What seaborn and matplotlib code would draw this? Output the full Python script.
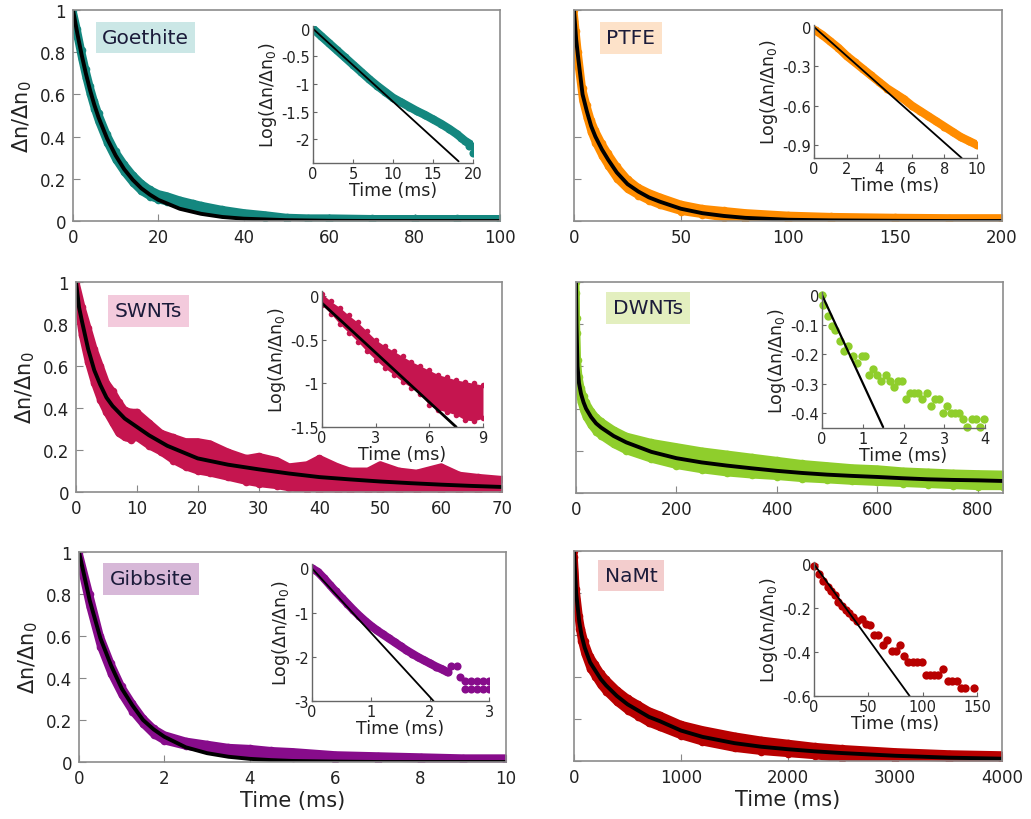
import matplotlib
matplotlib.use("Agg")
import matplotlib.pyplot as plt
import seaborn as sns

goe_t = [0, 1, 2, 3, 4, 5, 6, 8, 10, 12, 14, 16, 18, 20, 22, 25, 28, 30, 35, 40, 45, 50, 55, 60, 70, 80, 90, 100]
goe_hi = [1.0, 0.91, 0.81, 0.72, 0.64, 0.57, 0.51, 0.41, 0.33, 0.27, 0.22, 0.18, 0.15, 0.13, 0.12, 0.10, 0.085, 0.075, 0.055, 0.04, 0.03, 0.018, 0.015, 0.015, 0.012, 0.012, 0.012, 0.012]
goe_lo = [0.97, 0.87, 0.77, 0.68, 0.60, 0.53, 0.47, 0.37, 0.29, 0.23, 0.18, 0.14, 0.115, 0.10, 0.09, 0.075, 0.06, 0.05, 0.035, 0.022, 0.012, 0.003, 0.0, 0.0, 0.0, 0.0, 0.0, 0.0]
goe_fit_t = [0, 1, 2, 3, 4, 5, 6, 8, 10, 12, 14, 16, 18, 20, 25, 30, 35, 40, 50, 60, 70, 100]
goe_fit = [1.0, 0.89, 0.79, 0.70, 0.62, 0.55, 0.49, 0.39, 0.31, 0.245, 0.195, 0.155, 0.125, 0.1, 0.058, 0.034, 0.019, 0.011, 0.004, 0.001, 0.0, 0.0]

ptfe_t = [0, 1, 2, 4, 6, 8, 10, 13, 16, 20, 25, 30, 35, 40, 50, 60, 70, 80, 100, 120, 150, 175, 200]
ptfe_hi = [1.0, 0.9, 0.8, 0.63, 0.55, 0.48, 0.43, 0.37, 0.32, 0.26, 0.2, 0.16, 0.135, 0.115, 0.08, 0.06, 0.05, 0.04, 0.028, 0.022, 0.018, 0.016, 0.016]
ptfe_lo = [0.95, 0.82, 0.73, 0.57, 0.49, 0.42, 0.37, 0.31, 0.26, 0.2, 0.15, 0.12, 0.095, 0.075, 0.045, 0.03, 0.015, 0.005, 0.0, 0.0, 0.0, 0.0, 0.0]
ptfe_fit = [1.0, 0.86, 0.77, 0.6, 0.52, 0.45, 0.40, 0.34, 0.29, 0.23, 0.175, 0.14, 0.112, 0.092, 0.058, 0.037, 0.024, 0.015, 0.006, 0.003, 0.001, 0.0, 0.0]

sw_t = [0, 1, 2, 3, 4, 5, 6, 7, 8, 9, 10, 12, 14, 16, 18, 20, 22, 25, 28, 30, 33, 35, 38, 40, 43, 45, 48, 50, 53, 56, 60, 63, 66, 70]
sw_hi = [1.0, 0.88, 0.78, 0.68, 0.6, 0.52, 0.48, 0.43, 0.39, 0.38, 0.38, 0.33, 0.28, 0.26, 0.24, 0.24, 0.23, 0.19, 0.16, 0.17,
         0.15, 0.12, 0.13, 0.16, 0.12, 0.1, 0.1, 0.13, 0.1, 0.09, 0.12, 0.08, 0.07, 0.06]
sw_lo = [0.95, 0.75, 0.62, 0.52, 0.44, 0.38, 0.33, 0.28, 0.26, 0.25, 0.26, 0.22, 0.19, 0.15, 0.12, 0.1, 0.09, 0.07, 0.05, 0.04,
         0.03, 0.02, 0.01, 0.0, 0.0, 0.0, 0.0, 0.0, 0.0, 0.0, 0.0, 0.0, 0.0, 0.0]
sw_fit_t = [0, 0.5, 1, 2, 3, 4, 5, 6, 8, 10, 12, 15, 20, 25, 30, 35, 40, 45, 50, 55, 60, 65, 70]
sw_fit = [1.0, 0.88, 0.81, 0.68, 0.58, 0.51, 0.45, 0.41, 0.35, 0.31, 0.27, 0.22, 0.16, 0.13, 0.108, 0.088, 0.071, 0.06, 0.05, 0.042, 0.035, 0.029, 0.024]

dw_t = [0, 1, 3, 6, 10, 15, 20, 30, 40, 50, 75, 100, 150, 200, 250, 300, 350, 400, 450, 500, 550, 600, 650, 700, 750, 800, 850]
dw_fit = [1.0, 0.8, 0.6, 0.52, 0.47, 0.43, 0.40, 0.36, 0.33, 0.31, 0.27, 0.24, 0.195, 0.165, 0.145, 0.13, 0.117, 0.105, 0.095, 0.087, 0.081, 0.076, 0.07, 0.065, 0.062, 0.06, 0.057]
dw_hi = [1.0, 0.83, 0.63, 0.55, 0.5, 0.46, 0.43, 0.39, 0.36, 0.34, 0.3, 0.27, 0.24, 0.22, 0.2, 0.185, 0.17, 0.155, 0.14, 0.13, 0.12, 0.115, 0.105, 0.1, 0.095, 0.092, 0.09]
dw_lo = [0.95, 0.76, 0.56, 0.48, 0.43, 0.39, 0.36, 0.32, 0.29, 0.27, 0.23, 0.2, 0.16, 0.13, 0.11, 0.095, 0.085, 0.078, 0.068, 0.062, 0.055, 0.05, 0.045, 0.04, 0.035, 0.03, 0.03]

gi_t = [0, 0.25, 0.5, 0.75, 1, 1.25, 1.5, 1.75, 2, 2.5, 3, 3.5, 4, 4.5, 5, 6, 7, 8, 9, 10]
gi_hi = [1.0, 0.8, 0.6, 0.47, 0.36, 0.28, 0.21, 0.16, 0.13, 0.1, 0.085, 0.07, 0.065, 0.055, 0.05, 0.035, 0.03, 0.025, 0.02, 0.02]
gi_lo = [0.97, 0.74, 0.55, 0.42, 0.32, 0.24, 0.18, 0.13, 0.1, 0.075, 0.06, 0.045, 0.035, 0.028, 0.02, 0.01, 0.005, 0.0, 0.0, 0.0]
gi_fit = [1.0, 0.77, 0.59, 0.46, 0.35, 0.27, 0.2, 0.155, 0.12, 0.07, 0.042, 0.025, 0.015, 0.009, 0.005, 0.002, 0.0, 0.0, 0.0, 0.0]

na_t = [0, 20, 50, 70, 100, 150, 200, 250, 300, 400, 500, 600, 700, 800, 1000, 1200, 1500, 1750, 2000, 2250, 2500, 3000, 3500, 4000]
na_fit = [1.0, 0.8, 0.66, 0.6, 0.54, 0.47, 0.43, 0.39, 0.36, 0.31, 0.27, 0.24, 0.21, 0.19, 0.145, 0.115, 0.085, 0.068, 0.056, 0.046, 0.038, 0.025, 0.016, 0.011]
na_hi = [1.0, 0.82, 0.69, 0.63, 0.57, 0.5, 0.46, 0.42, 0.39, 0.34, 0.3, 0.27, 0.24, 0.22, 0.175, 0.15, 0.12, 0.1, 0.085, 0.07, 0.06, 0.045, 0.035, 0.03]
na_lo = [0.97, 0.77, 0.63, 0.57, 0.51, 0.44, 0.4, 0.36, 0.33, 0.28, 0.24, 0.21, 0.18, 0.16, 0.12, 0.09, 0.06, 0.045, 0.035, 0.025, 0.01, 0.005, 0.0, 0.0]

# ---- insets: log(dn/dn0) vs time ----
goe_in_x = [0, 1, 2, 3, 4, 5, 6, 7, 8, 9, 10, 11, 12, 13, 14, 15, 16, 17, 18, 19, 20]
goe_in_y = [0, -0.13, -0.26, -0.39, -0.52, -0.65, -0.78, -0.91, -1.03, -1.14, -1.25, -1.33, -1.41, -1.49, -1.56, -1.64, -1.72, -1.81, -1.91, -2.03, -2.12]
goe_ex_x = [18.5, 19.5, 20]
goe_ex_y = [-1.97, -2.12, -2.24]
goe_line_x = [0, 18.2]
goe_line_y = [0, -2.4]

ptfe_in_x = [0, 0.5, 1, 1.5, 2, 2.5, 3, 3.5, 4, 4.5, 5, 5.5, 6, 6.5, 7, 7.5, 8, 8.5, 9, 9.5, 10]
ptfe_in_y = [-0.02, -0.06, -0.11, -0.16, -0.22, -0.27, -0.32, -0.37, -0.42, -0.47, -0.51, -0.55, -0.6, -0.64, -0.68, -0.72, -0.76, -0.8, -0.84, -0.87, -0.9]
ptfe_line_x = [0, 9.06]
ptfe_line_y = [0, -1.0]

sw_in_x = [0, 0.5, 1, 1.5, 2, 2.5, 3, 3.5, 4, 4.5, 5, 5.5, 6, 6.5, 7, 7.5, 8, 8.5, 9]
sw_in_hi = [0.03, -0.06, -0.13, -0.22, -0.3, -0.4, -0.5, -0.57, -0.63, -0.69, -0.75, -0.8, -0.85, -0.9, -0.93, -0.96, -0.98, -1.0, -1.02]
sw_in_lo = [-0.1, -0.2, -0.32, -0.42, -0.52, -0.63, -0.73, -0.82, -0.9, -0.98, -1.05, -1.12, -1.25, -1.3, -1.33, -1.36, -1.42, -1.43, -1.4]
sw_line_x = [0, 7.5]
sw_line_y = [-0.08, -1.5]

dw_in_x = [0, 0.03, 0.14, 0.24, 0.33, 0.44, 0.55, 0.65, 0.77, 0.87, 0.97, 1.05, 1.15, 1.26, 1.36, 1.46, 1.56, 1.67, 1.77, 1.87,
           1.97, 2.05, 2.16, 2.26, 2.36, 2.46, 2.57, 2.67, 2.77, 2.87, 2.96, 3.06, 3.16, 3.26, 3.36, 3.47, 3.57, 3.67, 3.77, 3.87, 3.97]
dw_in_y = [0, -0.034, -0.072, -0.106, -0.12, -0.157, -0.19, -0.174, -0.207, -0.23, -0.207, -0.207, -0.27, -0.25, -0.27, -0.29,
           -0.27, -0.29, -0.31, -0.29, -0.29, -0.353, -0.332, -0.332, -0.332, -0.353, -0.332, -0.377, -0.353, -0.353, -0.4,
           -0.377, -0.4, -0.4, -0.4, -0.42, -0.445, -0.42, -0.42, -0.445, -0.42]
dw_line_x = [0, 1.5]
dw_line_y = [0, -0.447]

gi_in_x = [0, 0.1, 0.2, 0.3, 0.4, 0.5, 0.6, 0.7, 0.8, 0.9, 1.0, 1.1, 1.2, 1.3, 1.4, 1.5, 1.6, 1.7, 1.8, 1.9, 2.0, 2.1, 2.2, 2.3]
gi_in_y = [0, -0.08, -0.22, -0.37, -0.52, -0.66, -0.8, -0.94, -1.07, -1.19, -1.3, -1.4, -1.49, -1.58, -1.67, -1.76, -1.85,
           -1.93, -2.01, -2.08, -2.15, -2.22, -2.28, -2.35]
gi_ex_x = [2.35, 2.45, 2.5, 2.6, 2.7, 2.8, 2.9, 3.0, 2.6, 2.7, 2.8, 2.9, 3.0]
gi_ex_y = [-2.2, -2.2, -2.45, -2.55, -2.55, -2.55, -2.55, -2.55, -2.73, -2.73, -2.73, -2.73, -2.73]
gi_line_x = [0, 2.06]
gi_line_y = [0, -3.0]

na_in_x = [0, 4.6, 8.6, 13.2, 15.6, 19.3, 22.4, 25.5, 29, 32.5, 36.2, 39.3, 43.9, 47.9, 51.5, 55.5, 59.2, 63.2, 67.5, 71.5,
           75.2, 79.1, 82.8, 86.8, 90.8, 95.1, 99.1, 102.8, 106.7, 110.7, 114.4, 119, 123, 126.7, 131.3, 135.3, 139, 147.5]
na_in_y = [-0.008, -0.045, -0.076, -0.106, -0.124, -0.139, -0.174, -0.19, -0.207, -0.223, -0.242, -0.258, -0.25, -0.273,
           -0.277, -0.323, -0.323, -0.368, -0.345, -0.394, -0.394, -0.368, -0.42, -0.447, -0.447, -0.447, -0.447, -0.503,
           -0.503, -0.503, -0.503, -0.477, -0.53, -0.53, -0.53, -0.564, -0.564, -0.564]
na_line_x = [0, 88]
na_line_y = [0, -0.6]

W, H = 1031, 820

sns.set_style("ticks")
plt.rcParams['font.family'] = ['DejaVu Sans']
plt.rcParams['axes.unicode_minus'] = False
plt.rcParams['mathtext.fontset'] = 'dejavusans'

fig = plt.figure(figsize=(W / 100, H / 100), dpi=100)


def rect(x0, y0, x1, y1):
    return [x0 / W, 1 - y1 / H, (x1 - x0) / W, (y1 - y0) / H]


def fmt(v):
    return '%g' % v


def main_panel(box, t, lo, hi, ft, fy, color, xlim, xticks, ylab, xlab):
    ax = fig.add_axes(rect(*box))
    # data cloud: filled between the read edges, edges drawn thick like the marker pile
    ax.fill_between(t, lo, hi, color=color, lw=0)
    for edge in (hi, lo):
        sns.lineplot(x=t, y=edge, color=color, lw=5, estimator=None, sort=False, ax=ax,
                     solid_capstyle='round', solid_joinstyle='round')
        sns.scatterplot(x=t, y=edge, color=color, s=30, linewidth=0, ax=ax)
    sns.lineplot(x=ft, y=fy, color='black', lw=2.8, estimator=None, sort=False, ax=ax)
    ax.set_xlim(*xlim)
    ax.set_ylim(0, 1)
    ax.set_xticks(xticks)
    ax.set_xticklabels([fmt(v) for v in xticks])
    yt = [0, 0.2, 0.4, 0.6, 0.8, 1]
    ax.set_yticks(yt)
    if ylab:
        ax.set_yticklabels([fmt(v) for v in yt])
        ax.set_ylabel('Δn/Δn$_0$', fontsize=15, color='#222222', labelpad=4)
    else:
        ax.set_yticklabels([])
    if xlab:
        ax.set_xlabel('Time (ms)', fontsize=15, color='#222222', labelpad=2)
    ax.tick_params(direction='in', length=5, color='#888888', labelsize=12, labelcolor='#222222', pad=5)
    for s in ax.spines.values():
        s.set_color('#8c8c8c')
        s.set_linewidth(1.2)
    return ax


def inset(box, xlim, ylim, xticks, yticks):
    ax = fig.add_axes(rect(*box))
    ax.set_xlim(*xlim)
    ax.set_ylim(*ylim)
    ax.set_xticks(xticks)
    ax.set_xticklabels([fmt(v) for v in xticks])
    ax.set_yticks(yticks)
    ax.set_yticklabels([fmt(v) for v in yticks])
    ax.patch.set_alpha(0)
    for s in ['top', 'right']:
        ax.spines[s].set_visible(False)
    for s in ['left', 'bottom']:
        ax.spines[s].set_color('#666666')
        ax.spines[s].set_linewidth(1.0)
    ax.tick_params(direction='in', length=3, color='#666666', labelsize=10.5, labelcolor='#222222', pad=2)
    ax.set_xlabel('Time (ms)', fontsize=12.5, color='#222222', labelpad=0)
    ax.set_ylabel('Log(Δn/Δn$_0$)', fontsize=12.5, color='#222222', labelpad=2)
    return ax


def chain(ax, x, y, color):
    sns.lineplot(x=x, y=y, color=color, lw=6, estimator=None, sort=False, ax=ax)
    sns.scatterplot(x=x, y=y, color=color, s=34, linewidth=0, ax=ax)


def tag(x, y, text, bg):
    fig.text(x / W, 1 - y / H, text, fontsize=14.5, color='#1b1b3a', ha='center', va='center',
             bbox=dict(boxstyle='square,pad=0.32', fc=bg, ec='none'))


c_goe, c_ptfe, c_sw = '#14877f', '#ff8c00', '#c5154f'
c_dw, c_gi, c_na = '#8fce2c', '#870c8b', '#b80000'

# row 1
main_panel((73, 11, 500, 222), goe_t, goe_lo, goe_hi, goe_fit_t, goe_fit, c_goe, (0, 100), [0, 20, 40, 60, 80, 100], True, False)
main_panel((574, 11, 1002, 222), ptfe_t, ptfe_lo, ptfe_hi, ptfe_t, ptfe_fit, c_ptfe, (0, 200), [0, 50, 100, 150, 200], False, False)
# row 2
main_panel((76, 283, 502, 493), sw_t, sw_lo, sw_hi, sw_fit_t, sw_fit, c_sw, (0, 70), [0, 10, 20, 30, 40, 50, 60, 70], True, False)
main_panel((576, 283, 1003, 494), dw_t, dw_lo, dw_hi, dw_t, dw_fit, c_dw, (0, 850), [0, 200, 400, 600, 800], False, False)
# row 3
main_panel((79, 553, 506, 763), gi_t, gi_lo, gi_hi, gi_t, gi_fit, c_gi, (0, 10), [0, 2, 4, 6, 8, 10], True, True)
main_panel((574, 552, 1002, 762), na_t, na_lo, na_hi, na_t, na_fit, c_na, (0, 4000), [0, 1000, 2000, 3000, 4000], False, True)

# insets
ax = inset((313, 27, 473, 164), (0, 20), (-2.43, 0.05), [0, 5, 10, 15, 20], [0, -0.5, -1, -1.5, -2])
chain(ax, goe_in_x, goe_in_y, c_goe)
sns.scatterplot(x=goe_ex_x, y=goe_ex_y, color=c_goe, s=34, linewidth=0, ax=ax)
sns.lineplot(x=goe_line_x, y=goe_line_y, color='black', lw=1.3, ax=ax)

ax = inset((814, 26, 977, 159), (0, 10), (-1.0, 0.015), [0, 2, 4, 6, 8, 10], [0, -0.3, -0.6, -0.9])
chain(ax, ptfe_in_x, ptfe_in_y, c_ptfe)
sns.lineplot(x=ptfe_line_x, y=ptfe_line_y, color='black', lw=1.3, ax=ax)

ax = inset((322, 292, 483, 428), (0, 9), (-1.5, 0.06), [0, 3, 6, 9], [0, -0.5, -1, -1.5])
ax.fill_between(sw_in_x, sw_in_lo, sw_in_hi, color=c_sw, lw=0)
sns.scatterplot(x=sw_in_x, y=sw_in_hi, color=c_sw, s=16, linewidth=0, ax=ax)
sns.scatterplot(x=sw_in_x, y=sw_in_lo, color=c_sw, s=16, linewidth=0, ax=ax)
sns.lineplot(x=sw_line_x, y=sw_line_y, color='black', lw=2, ax=ax)

ax = inset((822, 293, 985, 429), (0, 4), (-0.45, 0.01), [0, 1, 2, 3, 4], [0, -0.1, -0.2, -0.3, -0.4])
sns.scatterplot(x=dw_in_x, y=dw_in_y, color=c_dw, s=36, linewidth=0, ax=ax, clip_on=False)
sns.lineplot(x=dw_line_x, y=dw_line_y, color='black', lw=1.6, ax=ax)

ax = inset((312, 565, 489, 702), (0, 3), (-3, 0.1), [0, 1, 2, 3], [0, -1, -2, -3])
chain(ax, gi_in_x, gi_in_y, c_gi)
sns.scatterplot(x=gi_ex_x, y=gi_ex_y, color=c_gi, s=34, linewidth=0, ax=ax)
sns.lineplot(x=gi_line_x, y=gi_line_y, color='black', lw=1.3, ax=ax)

ax = inset((814, 563, 977, 697), (0, 150), (-0.6, 0.01), [0, 50, 100, 150], [0, -0.2, -0.4, -0.6])
sns.scatterplot(x=na_in_x, y=na_in_y, color=c_na, s=36, linewidth=0, ax=ax, clip_on=False)
sns.lineplot(x=na_line_x, y=na_line_y, color='black', lw=1.3, ax=ax)

# sample tags
tag(145.5, 38.5, 'Goethite', '#cbe7e6')
tag(631, 39, 'PTFE', '#fde2c9')
tag(148.5, 312, 'SWNTs', '#f3cadc')
tag(648, 309, 'DWNTs', '#e3efbf')
tag(151, 580, 'Gibbsite', '#d7b8d8')
tag(631, 576.5, 'NaMt', '#f3cdcd')

fig.savefig('out.png', dpi=100)
